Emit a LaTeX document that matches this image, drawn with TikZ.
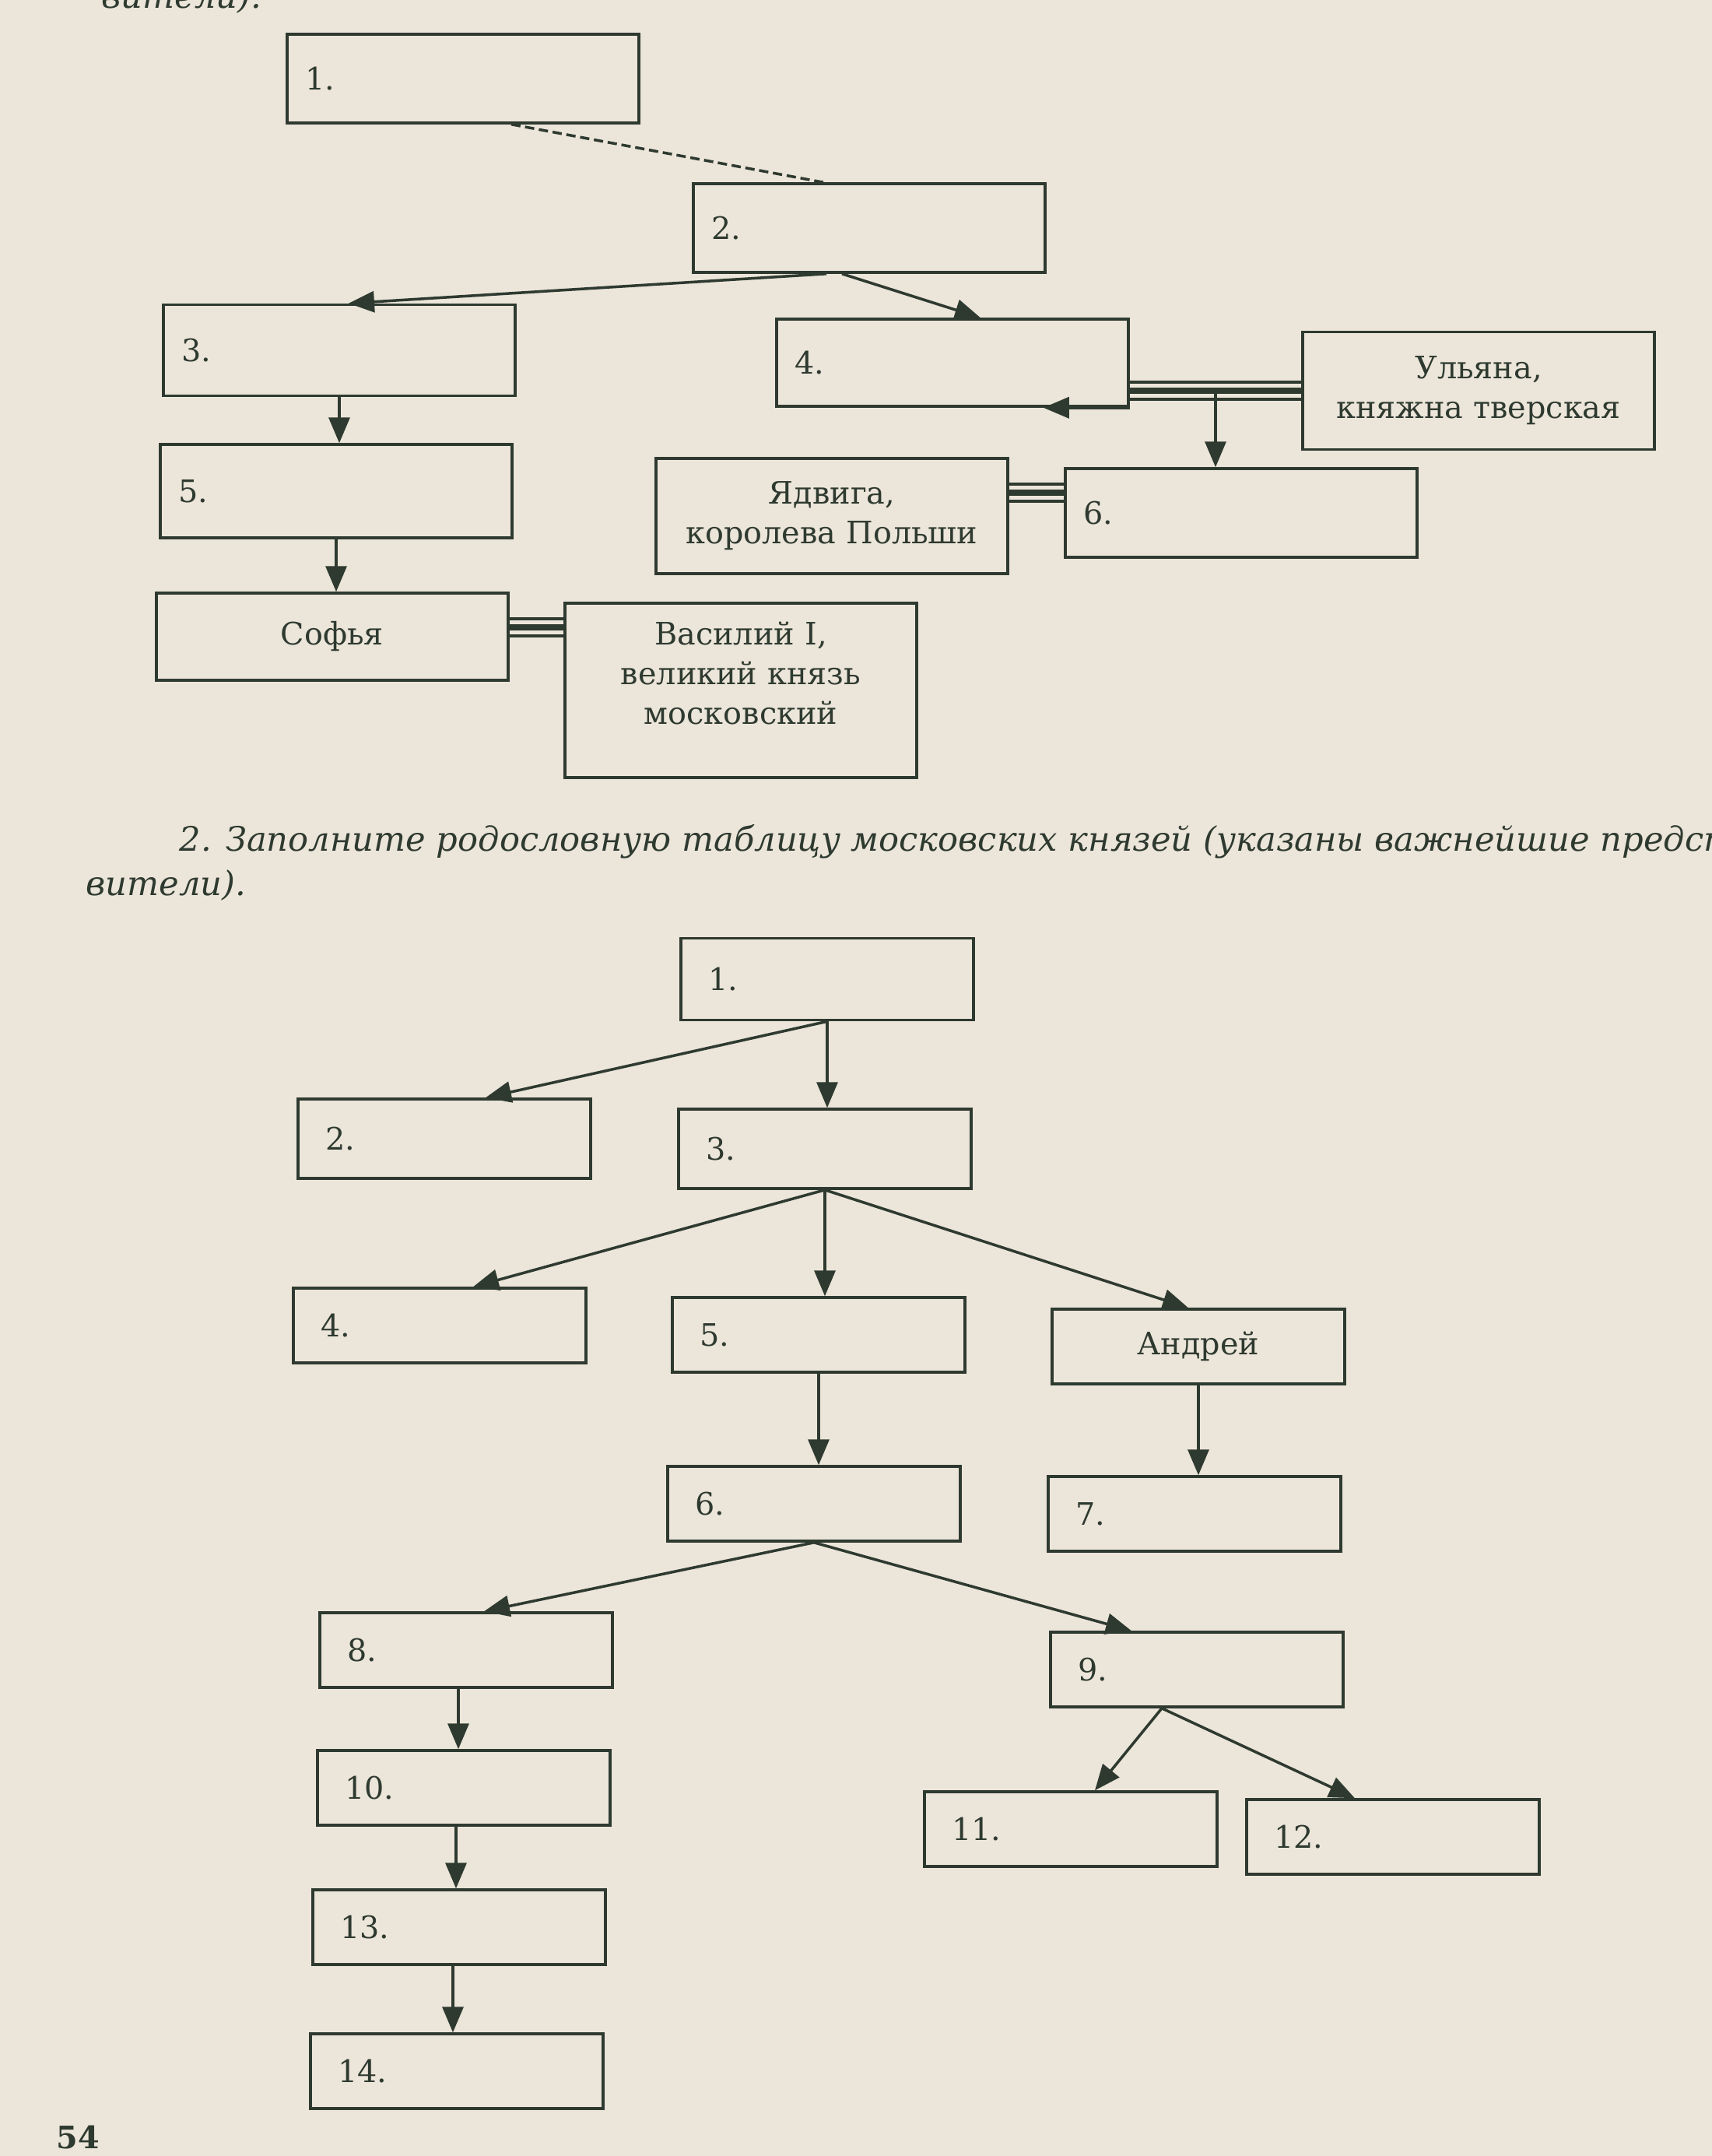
\documentclass[tikz,border=0pt]{standalone}
\usepackage{fontspec}
\setmainfont{DejaVu Serif}
\usetikzlibrary{arrows.meta, calc, positioning}
\definecolor{ink}{RGB}{46,58,48}
\definecolor{paper}{RGB}{236,229,217}
\newcommand{\boxfont}{\fontsize{11.3}{14.5}\selectfont}
\newcommand{\headfont}{\fontsize{12.3}{16}\selectfont\itshape}
\tikzset{
    num_box/.style={
        draw=ink,
        text=ink,
        line width=1pt,
        minimum width=4.52cm,
        minimum height=1.14cm,
        inner xsep=0.23cm,
        inner ysep=0pt,
        text width=4.06cm,
        align=left,
        font=\boxfont
    },
    name_box/.style={num_box, align=center},
    kid_box/.style={
        num_box,
        minimum width=3.76cm,
        minimum height=0.96cm,
        inner xsep=0.35cm,
        text width=3.06cm
    },
    child_arrow/.style={draw=ink, line width=1pt, -{Triangle[length=0.33cm, width=0.27cm]}},
    marriage/.style={
        draw=ink,
        line width=2.4pt,
        preaction={draw=ink, line width=1.3pt, double=paper, double distance=5pt}
    },
    head_text/.style={anchor=base west, inner sep=0pt, text=ink, font=\headfont}
}

\begin{document}
\begin{tikzpicture}[x=1cm, y=1cm]
    \useasboundingbox (0,0) rectangle (22,-27.7);
    \fill[paper] (0,0) rectangle (22,-27.7);
    \clip (0,0) rectangle (22,-27.7);

    % End of the task above, cut by the page edge
    \node[head_text] (tail) at (1.3,-0.1) {вители).};

    % Upper table : boxes
    \node[num_box] (b1) at (5.95,-1.01) {1.};
    \node[num_box] (b2) at (11.17,-2.93) {2.};
    \node[num_box, minimum height=1.17cm] (b3) at (4.36,-4.50) {3.};
    \node[num_box, minimum height=1.12cm] (b4) at (12.24,-4.66) {4.};
    \node[name_box, minimum height=1.51cm] (uly) at (19.00,-5.02) {Ульяна,\\княжна тверская};
    \node[num_box, minimum height=1.20cm] (b5) at (4.32,-6.31) {5.};
    \node[name_box, minimum height=1.48cm] (jad) at (10.69,-6.63) {Ядвига,\\королева Польши};
    \node[num_box] (b6) at (15.95,-6.59) {6.};
    \node[name_box, minimum height=1.12cm] (sof) at (4.27,-8.18) {Софья};
    \node[name_box, minimum height=2.24cm] (vas) at (9.52,-8.87)
        {Василий I,\\великий князь\\московский\rule[-0.45cm]{0pt}{0pt}};

    % Upper table : lines
    \draw[ink, line width=1pt, dash pattern=on 0.12cm off 0.06cm]
        ([xshift=0.62cm]b1.south) -- ([xshift=-0.59cm]b2.north);
    \draw[child_arrow] ([xshift=-0.55cm]b2.south) -- ([xshift=0.12cm]b3.north);
    \draw[child_arrow] ([xshift=-0.35cm]b2.south) -- ([xshift=0.36cm]b4.north);
    \draw[marriage] (b4.east |- uly.west) -- (uly.west);
    \coordinate (m1) at ($(b4.east |- uly.west)!0.5!(uly.west)$);
    \draw[child_arrow] (m1) -- (m1 |- b6.north);
    \draw[child_arrow] (b4.south east) -- ([xshift=-1.11cm]b4.south east);
    \draw[marriage] ($(jad.east)+(0,0.3)$) -- ($(jad.east -| b6.west)+(0,0.3)$);
    \draw[child_arrow] (b3.south) -- (b3.south |- b5.north);
    \draw[child_arrow] (b5.south) -- (b5.south |- sof.north);
    \draw[marriage] ($(sof.east)+(0,0.12)$) -- ($(sof.east -| vas.west)+(0,0.12)$);

    % Task 2
    \node[head_text] (task) at (2.3,-10.93)
        {2. Заполните родословную таблицу московских князей (указаны важнейшие предста-};
    \node[head_text] (task2) at (1.1,-11.5) {вители).};

    % Lower table : boxes
    \node[kid_box, minimum height=1.05cm] (c1) at (10.63,-12.58) {1.};
    \node[kid_box, minimum height=1.02cm] (c2) at (5.71,-14.63) {2.};
    \node[kid_box, minimum height=1.02cm] (c3) at (10.60,-14.76) {3.};
    \node[kid_box] (c4) at (5.65,-17.03) {4.};
    \node[kid_box] (c5) at (10.52,-17.15) {5.};
    \node[kid_box, align=center] (andr) at (15.40,-17.30) {Андрей};
    \node[kid_box] (c6) at (10.46,-19.32) {6.};
    \node[kid_box] (c7) at (15.35,-19.45) {7.};
    \node[kid_box] (c8) at (5.99,-21.20) {8.};
    \node[kid_box] (c9) at (15.38,-21.45) {9.};
    \node[kid_box] (c10) at (5.96,-22.97) {10.};
    \node[kid_box] (c11) at (13.76,-23.50) {11.};
    \node[kid_box] (c12) at (17.90,-23.60) {12.};
    \node[kid_box] (c13) at (5.90,-24.76) {13.};
    \node[kid_box] (c14) at (5.87,-26.61) {14.};

    % Lower table : arrows
    \draw[child_arrow] (c1.south) -- ([xshift=0.53cm]c2.north);
    \draw[child_arrow] (c1.south) -- (c1.south |- c3.north);
    \draw[child_arrow] (c3.south) -- ([xshift=0.43cm]c4.north);
    \draw[child_arrow] (c3.south) -- (c3.south |- c5.north);
    \draw[child_arrow] (c3.south) -- ([xshift=-0.13cm]andr.north);
    \draw[child_arrow] (c5.south) -- (c5.south |- c6.north);
    \draw[child_arrow] (andr.south) -- (andr.south |- c7.north);
    \draw[child_arrow] (c6.south) -- ([xshift=0.23cm]c8.north);
    \draw[child_arrow] (c6.south) -- ([xshift=-0.84cm]c9.north);
    \draw[child_arrow] ([xshift=-0.1cm]c8.south) -- ([xshift=-0.1cm]c8.south |- c10.north);
    \draw[child_arrow] ([xshift=-0.1cm]c10.south) -- ([xshift=-0.1cm]c10.south |- c13.north);
    \draw[child_arrow] ([xshift=-0.08cm]c13.south) -- ([xshift=-0.08cm]c13.south |- c14.north);
    \draw[child_arrow] ([xshift=-0.45cm]c9.south) -- ([xshift=0.31cm]c11.north);
    \draw[child_arrow] ([xshift=-0.45cm]c9.south) -- ([xshift=-0.49cm]c12.north);

    % Page number
    \node[anchor=base, inner sep=0pt, text=ink, font=\boxfont\bfseries] (page) at (1.0,-27.6) {54};
\end{tikzpicture}
\end{document}
